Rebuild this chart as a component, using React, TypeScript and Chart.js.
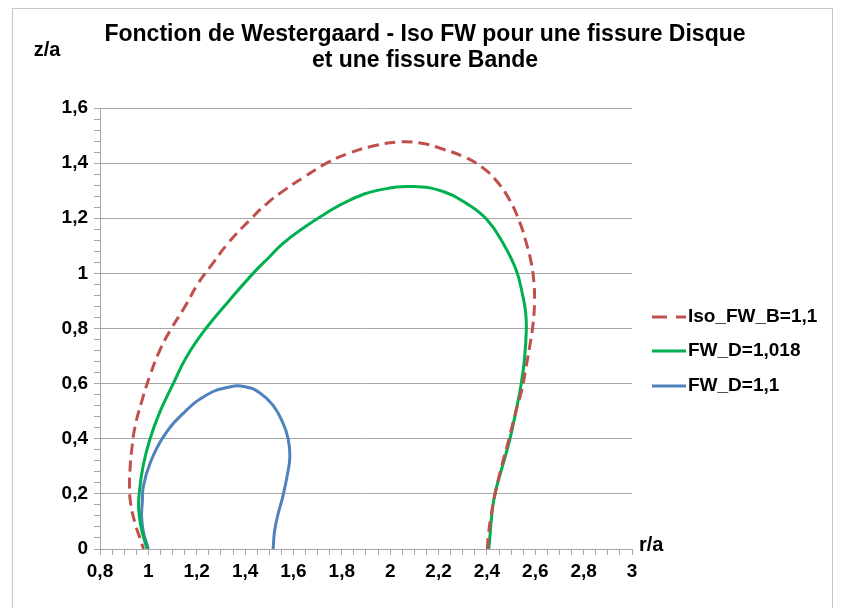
import React, { useEffect, useRef } from 'react';
import { Chart, registerables } from 'chart.js';

Chart.register(...registerables);

const TITLE_LINES = ['Fonction de Westergaard - Iso FW pour une fissure Disque', 'et une fissure Bande'];
const X_TITLE = 'r/a';
const Y_TITLE = 'z/a';
const SERIES_NAMES = ['Iso_FW_B=1,1', 'FW_D=1,018', 'FW_D=1,1'];
const SERIES_COLORS = ['#C0504D', '#00B050', '#4F81BD'];

// Iso_FW_B=1,1 (red dashed)
const isoB_r = [2.402, 2.406, 2.416, 2.434, 2.458, 2.49, 2.52, 2.545, 2.562, 2.578, 2.591, 2.597, 2.594, 2.583, 2.563, 2.536, 2.494, 2.44, 2.38, 2.3, 2.21, 2.143, 2.04, 1.929, 1.833, 1.737, 1.647, 1.564, 1.495, 1.42, 1.33, 1.261, 1.206, 1.151, 1.096, 1.048, 1.007, 0.972, 0.945, 0.931, 0.924, 0.922, 0.926, 0.945, 0.965, 0.98];
const isoB_z = [0, 0.05, 0.115, 0.2, 0.29, 0.395, 0.5, 0.58, 0.66, 0.74, 0.819, 0.9, 0.97, 1.04, 1.11, 1.185, 1.266, 1.335, 1.385, 1.425, 1.453, 1.47, 1.477, 1.462, 1.437, 1.4, 1.351, 1.303, 1.257, 1.194, 1.11, 1.03, 0.964, 0.879, 0.801, 0.722, 0.63, 0.534, 0.444, 0.359, 0.287, 0.23, 0.17, 0.093, 0.04, 0];

// FW_D=1,018 (green)
const fwD1_r = [2.408, 2.413, 2.418, 2.432, 2.46, 2.494, 2.521, 2.542, 2.555, 2.563, 2.56, 2.549, 2.521, 2.467, 2.398, 2.315, 2.219, 2.095, 1.957, 1.833, 1.723, 1.65, 1.557, 1.495, 1.433, 1.333, 1.238, 1.16, 1.103, 1.049, 1.007, 0.978, 0.962, 0.96, 0.972, 0.995];
const fwD1_z = [0, 0.05, 0.105, 0.196, 0.287, 0.395, 0.504, 0.6, 0.686, 0.795, 0.86, 0.916, 1.012, 1.109, 1.197, 1.254, 1.297, 1.315, 1.303, 1.266, 1.212, 1.17, 1.109, 1.055, 1.0, 0.9, 0.8, 0.7, 0.6, 0.5, 0.4, 0.3, 0.2, 0.142, 0.07, 0];

// FW_D=1,1 (blue)
const fwD2_r = [1.0, 0.98, 0.972, 0.975, 0.979, 1.007, 1.062, 1.144, 1.241, 1.33, 1.4, 1.46, 1.515, 1.555, 1.578, 1.585, 1.575, 1.556, 1.537, 1.522, 1.516];
const fwD2_z = [0, 0.06, 0.117, 0.17, 0.226, 0.311, 0.407, 0.492, 0.559, 0.587, 0.589, 0.567, 0.522, 0.46, 0.4, 0.335, 0.27, 0.19, 0.129, 0.065, 0];

const X_MIN = 0.8, X_MAX = 3, X_MAJOR = 0.2, X_MINOR = 0.05;
const Y_MIN = 0, Y_MAX = 1.6, Y_MAJOR = 0.2, Y_MINOR = 0.04;

const FONT = '"Liberation Sans", Arial, Helvetica, sans-serif';
const GRID = '#a6a6a6';

const isMajor = (v: number, step: number) => Math.abs(v / step - Math.round(v / step)) < 1e-6;
const fmt = (v: number) => String(Math.round(v * 10) / 10).replace('.', ',');
const pts = (r: number[], z: number[]) => r.map((x, i) => ({ x, y: z[i] }));

export default function App() {
  const ref = useRef<HTMLCanvasElement | null>(null);
  useEffect(() => {
    document.body.style.margin = '0';
    const canvas = ref.current;
    if (!canvas) return;
    const decor = {
      id: 'decor',
      beforeDraw(chart: any) {
        const c = chart.ctx;
        c.save();
        c.fillStyle = '#ffffff';
        c.fillRect(0, 0, chart.width, chart.height);
        c.restore();
      },
      afterDraw(chart: any) {
        const c = chart.ctx;
        c.save();
        c.strokeStyle = '#c8c8c8';
        c.lineWidth = 1;
        c.strokeRect(12.5, 8.5, 820, 700);
        c.fillStyle = '#000';
        c.textAlign = 'center';
        c.textBaseline = 'middle';
        c.font = 'bold 23px ' + FONT;
        c.fillText(TITLE_LINES[0], 425, 35);
        c.fillText(TITLE_LINES[1], 425, 61);
        c.font = 'bold 20px ' + FONT;
        c.fillText(Y_TITLE, 47, 50);
        c.textAlign = 'left';
        c.fillText(X_TITLE, 639, 545);
        // legend
        c.font = 'bold 19px ' + FONT;
        const ys = [317, 351, 386];
        SERIES_NAMES.forEach((n, i) => {
          c.strokeStyle = SERIES_COLORS[i];
          c.lineWidth = 3;
          c.setLineDash(i === 0 ? [15, 9] : []);
          c.beginPath();
          c.moveTo(652, ys[i]);
          c.lineTo(686, ys[i]);
          c.stroke();
          c.setLineDash([]);
          c.fillStyle = '#000';
          c.fillText(n, 688, ys[i]);
        });
        c.restore();
      },
    };
    const ds = (i: number, r: number[], z: number[]) => ({
      label: SERIES_NAMES[i],
      data: pts(r, z),
      showLine: true,
      borderColor: SERIES_COLORS[i],
      backgroundColor: SERIES_COLORS[i],
      borderWidth: 3,
      borderDash: i === 0 ? [11, 6] : [],
      pointRadius: 0,
      tension: 0.45,
      fill: false,
    });
    const chart = new Chart(canvas, {
      type: 'scatter',
      data: {
        datasets: [ds(0, isoB_r, isoB_z), ds(1, fwD1_r, fwD1_z), ds(2, fwD2_r, fwD2_z)],
      },
      options: {
        animation: false,
        responsive: false,
        devicePixelRatio: 1,
        layout: { padding: { top: 108, right: 209, bottom: 19, left: 0 } },
        plugins: { legend: { display: false }, title: { display: false }, tooltip: { enabled: false } },
        scales: {
          x: {
            type: 'linear',
            min: X_MIN,
            max: X_MAX,
            afterFit: (s: any) => { s.height = 40; },
            ticks: {
              stepSize: X_MINOR,
              autoSkip: false,
              maxRotation: 0,
              padding: 5,
              color: '#000',
              font: { family: FONT, size: 19, weight: 'bold' },
              callback: (v: any) => (isMajor(Number(v), X_MAJOR) ? fmt(Number(v)) : ''),
            },
            grid: { drawOnChartArea: false, drawTicks: true, tickLength: 6, color: GRID },
            border: { color: GRID, width: 1 },
          },
          y: {
            type: 'linear',
            min: Y_MIN,
            max: Y_MAX,
            afterFit: (s: any) => { s.width = 100; },
            ticks: {
              stepSize: Y_MINOR,
              autoSkip: false,
              padding: 6,
              color: '#000',
              font: { family: FONT, size: 19, weight: 'bold' },
              callback: (v: any) => (isMajor(Number(v), Y_MAJOR) ? fmt(Number(v)) : ''),
            },
            grid: {
              drawTicks: true,
              tickLength: 6,
              color: (ctx: any) => (ctx.tick && isMajor(ctx.tick.value, Y_MAJOR) ? GRID : 'rgba(0,0,0,0)'),
              tickColor: GRID,
            },
            border: { color: GRID, width: 1 },
          },
        },
      },
      plugins: [decor],
    } as any);
    return () => chart.destroy();
  }, []);
  return (
    <div style={{ width: 841, height: 608 }}>
      <canvas ref={ref} width={841} height={608} style={{ display: 'block' }} />
    </div>
  );
}
